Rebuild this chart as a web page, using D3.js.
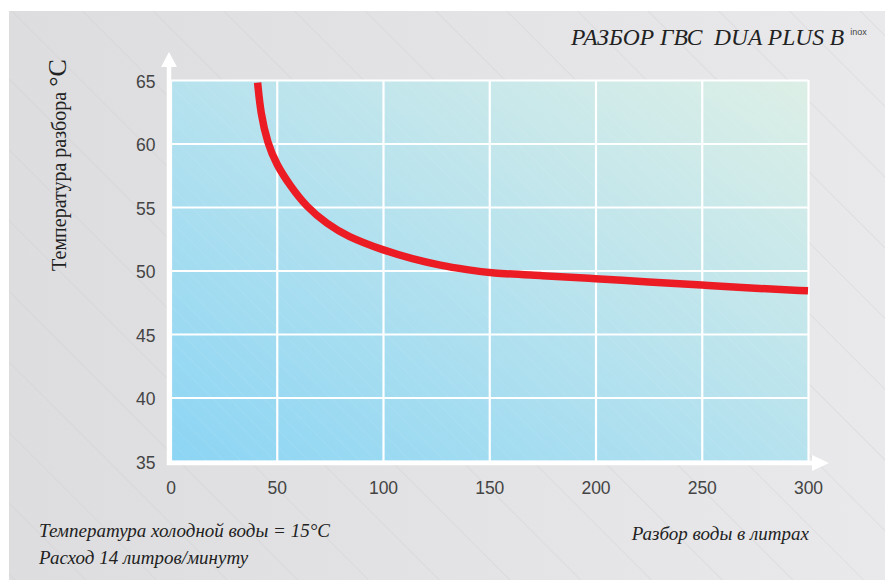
<!DOCTYPE html>
<html>
<head>
<meta charset="utf-8">
<script src="https://cdn.jsdelivr.net/npm/d3@7"></script>
<style>
    body { margin: 0; background: #ffffff; }
</style>
</head>
<body>
<div class="chart-canvas"></div>
<script>
// values
const flowTicks = [0, 50, 100, 150, 200, 250, 300];
const tempTicks = [35, 40, 45, 50, 55, 60, 65];
const flow = [41, 42.4, 45.7, 50, 56.2, 64, 73.8, 83, 100, 114, 127, 140, 150, 175, 200, 225, 250, 275, 300];
const temperature = [64.8, 62.4, 60, 58.3, 56.7, 55, 53.65, 52.7, 51.6, 50.9, 50.4, 50.05, 49.8, 49.6, 49.35, 49.1, 48.85, 48.6, 48.4];

const title = 'РАЗБОР ГВС  DUA PLUS B';
const yTitle = 'Температура разбора ';
const xTitle = 'Разбор воды в литрах';
const notes = ['Температура холодной воды = 15°C', 'Расход 14 литров/минуту'];

const width = 885;
const height = 580;
const plotLeft = 170.5, plotRight = 808, plotTop = 80, plotBottom = 461;

const svg = d3.select('.chart-canvas')
    .append('svg')
    .attr('width', width)
    .attr('height', height);

const defs = svg.append('defs');

const bg = defs.append('linearGradient').attr('id', 'bg')
    .attr('x1', 0).attr('y1', 0).attr('x2', 1).attr('y2', 0);
bg.append('stop').attr('offset', 0).attr('stop-color', '#dddddf');
bg.append('stop').attr('offset', 1).attr('stop-color', '#e9e9eb');

const plotFill = defs.append('linearGradient').attr('id', 'plotFill')
    .attr('x1', 0).attr('y1', 1).attr('x2', 1).attr('y2', 0);
plotFill.append('stop').attr('offset', 0).attr('stop-color', '#8cd5f4');
plotFill.append('stop').attr('offset', 0.5).attr('stop-color', '#b6e2ee');
plotFill.append('stop').attr('offset', 1).attr('stop-color', '#ddefe6');

// faint diagonal hatching
const hatch = defs.append('pattern').attr('id', 'hatch')
    .attr('patternUnits', 'userSpaceOnUse')
    .attr('width', 50).attr('height', 50)
    .attr('patternTransform', 'rotate(-45)');
hatch.append('line')
    .attr('x1', 0).attr('y1', 0).attr('x2', 0).attr('y2', 50)
    .attr('stroke', '#cbcbce').attr('stroke-width', 0.7);

const hatchLight = defs.append('pattern').attr('id', 'hatchLight')
    .attr('patternUnits', 'userSpaceOnUse')
    .attr('width', 12).attr('height', 12)
    .attr('patternTransform', 'rotate(-45)');
hatchLight.append('line')
    .attr('x1', 0).attr('y1', 0).attr('x2', 0).attr('y2', 12)
    .attr('stroke', '#ffffff').attr('stroke-opacity', 0.12).attr('stroke-width', 1);

svg.append('rect')
    .attr('x', 9).attr('y', 11)
    .attr('width', width - 9).attr('height', height - 11)
    .attr('fill', 'url(#bg)');
svg.append('rect')
    .attr('x', 9).attr('y', 11)
    .attr('width', width - 9).attr('height', height - 11)
    .attr('fill', 'url(#hatch)');

const xScale = d3.scaleLinear().domain([0, 300]).range([plotLeft, plotRight]);
const yScale = d3.scaleLinear().domain([35, 65]).range([plotBottom, plotTop]);

svg.append('rect')
    .attr('x', xScale(0)).attr('y', yScale(65))
    .attr('width', xScale(300) - xScale(0))
    .attr('height', yScale(35) - yScale(65))
    .attr('fill', 'url(#plotFill)');
svg.append('rect')
    .attr('x', xScale(0)).attr('y', yScale(65))
    .attr('width', xScale(300) - xScale(0))
    .attr('height', yScale(35) - yScale(65))
    .attr('fill', 'url(#hatchLight)');

// grid + tick labels
const xAxis = svg.append('g')
    .attr('transform', `translate(0, ${plotBottom})`)
    .call(d3.axisBottom(xScale).tickValues(flowTicks)
        .tickSize(-(plotBottom - plotTop)).tickPadding(21));
const yAxis = svg.append('g')
    .attr('transform', `translate(${plotLeft}, 0)`)
    .call(d3.axisLeft(yScale).tickValues(tempTicks)
        .tickSize(-(plotRight - plotLeft)).tickPadding(15));

[xAxis, yAxis].forEach(a => {
    a.select('.domain').remove();
    a.selectAll('line').attr('stroke', '#ffffff').attr('stroke-width', 2.2);
    a.selectAll('text')
        .attr('fill', '#444444')
        .style('font-family', '"Liberation Sans", Arial, sans-serif')
        .style('font-size', '17.5px');
});
yAxis.selectAll('text').attr('dy', '0.42em');

// white axes with arrows
const ax = xScale(0) - 1.5;
const ay = yScale(35) + 2;
svg.append('line')
    .attr('x1', ax).attr('y1', ay + 2).attr('x2', ax).attr('y2', 66)
    .attr('stroke', '#ffffff').attr('stroke-width', 4.5);
svg.append('path')
    .attr('d', `M${ax},52 L${ax + 8},67 L${ax - 8},67 Z`)
    .attr('fill', '#ffffff');
svg.append('line')
    .attr('x1', ax - 2).attr('y1', ay).attr('x2', 813).attr('y2', ay)
    .attr('stroke', '#ffffff').attr('stroke-width', 4.5);
svg.append('path')
    .attr('d', `M812,${ay - 8} L829,${ay} L812,${ay + 8} Z`)
    .attr('fill', '#ffffff');

// curve
const line = d3.line()
    .x((d, i) => xScale(flow[i]))
    .y(d => yScale(d))
    .curve(d3.curveBasis);

svg.append('path')
    .datum(temperature)
    .attr('d', line)
    .attr('fill', 'none')
    .attr('stroke', '#ec1c24')
    .attr('stroke-width', 7.5);

// texts
const serif = '"Liberation Serif", "Times New Roman", serif';

const t = svg.append('text')
    .attr('x', 571).attr('y', 45)
    .attr('fill', '#222222')
    .style('font-family', serif)
    .style('font-style', 'italic')
    .style('font-size', '23.5px')
    .style('white-space', 'pre');
t.append('tspan').text(title);
t.append('tspan')
    .attr('dx', 6).attr('dy', -10)
    .style('font-family', '"Liberation Sans", Arial, sans-serif')
    .style('font-style', 'normal')
    .style('font-size', '9px')
    .attr('fill', '#444444')
    .text('inox');

const yt = svg.append('text')
    .attr('transform', 'translate(66, 165) rotate(-90)')
    .attr('text-anchor', 'middle')
    .attr('fill', '#222222')
    .style('font-family', serif)
    .style('font-size', '20px');
yt.append('tspan').text(yTitle);
yt.append('tspan').style('font-size', '26px').text('°C');

svg.append('text')
    .attr('x', 809).attr('y', 540)
    .attr('text-anchor', 'end')
    .attr('fill', '#222222')
    .style('font-family', serif)
    .style('font-style', 'italic')
    .style('font-size', '19px')
    .text(xTitle);

svg.selectAll('.note')
    .data(notes).enter()
    .append('text')
    .attr('class', 'note')
    .attr('x', 39)
    .attr('y', (d, i) => 537 + i * 27)
    .attr('fill', '#222222')
    .style('font-family', serif)
    .style('font-style', 'italic')
    .style('font-size', '19px')
    .text(d => d);
</script>
</body>
</html>
